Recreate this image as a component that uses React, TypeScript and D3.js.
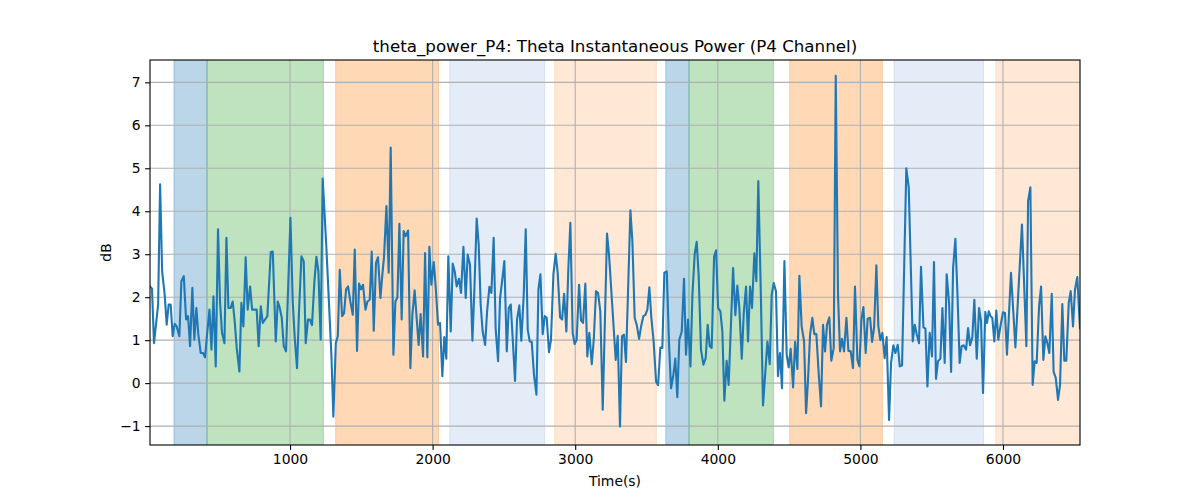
import { useEffect, useRef } from 'react'
import * as d3 from 'd3'

// sample times (s) and theta power (dB)
const TIME = [
  18, 32, 46, 60, 75, 89, 103, 121, 135, 149, 163, 177, 191, 205, 224, 238, 255, 271, 285, 299,
  315, 329, 343, 357, 374, 390, 404, 418, 435, 449, 463, 479, 495, 509, 523, 540, 554, 568, 584, 598,
  612, 626, 645, 659, 673, 689, 703, 720, 734, 748, 766, 780, 795, 809, 825, 841,
  865, 879, 900, 914, 928, 942, 956, 972, 1003, 1019, 1033, 1049, 1063, 1080, 1096, 1110, 1126, 1140, 1154, 1171,
  1185, 1199, 1215, 1229, 1255, 1290, 1304, 1321, 1335, 1349, 1365, 1379, 1393, 1407, 1423, 1440, 1454, 1470, 1484, 1498,
  1512, 1529, 1543, 1559, 1573, 1587, 1603, 1617, 1634, 1648, 1659,
  1676, 1692, 1706, 1725, 1739, 1753, 1767, 1783, 1797, 1811, 1828, 1844, 1858, 1874, 1888, 1902, 1916, 1933, 1947, 1963,
  1977, 1991, 2008, 2022, 2038, 2052, 2068, 2082, 2096, 2110, 2127, 2141, 2155, 2169, 2185, 2199, 2216, 2232, 2246, 2262,
  2279, 2293, 2309, 2323, 2337, 2351, 2368, 2382, 2398, 2412, 2428, 2442, 2459, 2473, 2487, 2503,
  2520, 2534, 2548, 2562, 2578, 2592, 2608, 2622, 2639, 2653, 2667, 2681, 2695, 2711, 2728, 2742, 2756, 2772, 2786, 2800,
  2816, 2830, 2847, 2863, 2877, 2894, 2908, 2922, 2938, 2952, 2966, 2982, 2996, 3010, 3027, 3041, 3055, 3071, 3085, 3099,
  3116, 3130, 3146, 3160, 3176, 3193, 3223, 3237, 3284, 3298, 3314, 3328, 3342, 3356,
  3387, 3401, 3417, 3431, 3448, 3462, 3478, 3492, 3506, 3520, 3534, 3550, 3567, 3581, 3597, 3611, 3625, 3642, 3658, 3672,
  3688, 3702, 3716, 3730, 3747, 3763, 3777, 3791, 3808, 3822, 3838, 3852, 3866, 3882, 3899, 3915, 3929, 3943, 3957, 3974,
  3988, 4002, 4018, 4032, 4046, 4062, 4076, 4093, 4107, 4123, 4137, 4151, 4168, 4182, 4198, 4212,
  4226, 4240, 4256, 4270, 4284, 4301, 4317, 4334, 4348, 4364, 4378, 4392, 4408, 4422, 4436, 4450, 4467, 4483, 4497, 4511,
  4528, 4542, 4558, 4572, 4588, 4605, 4619, 4633, 4647, 4663, 4677, 4691, 4708, 4724, 4738, 4752, 4766, 4782, 4796, 4813,
  4827, 4843, 4857, 4871, 4885, 4902, 4916, 4932, 4948, 4962, 4979, 4993, 5007, 5021, 5037, 5051,
  5068, 5082, 5096, 5112, 5126, 5140, 5154, 5170, 5184, 5201, 5215, 5231, 5245, 5262, 5276, 5292, 5322, 5339, 5367, 5381,
  5395, 5411, 5425, 5442, 5456, 5470, 5486, 5502, 5516, 5530, 5544, 5561, 5575, 5591, 5605, 5622, 5636, 5650, 5666, 5682,
  5696, 5710, 5724, 5741, 5755, 5769, 5785, 5799, 5816, 5832, 5846, 5860,
  5876, 5888, 5900, 5914, 5925, 5939, 5953, 5967, 5984, 6000, 6014, 6028, 6056, 6087, 6133, 6164, 6176, 6192, 6208, 6222,
  6236, 6253, 6267, 6283, 6297, 6311, 6325, 6342, 6355, 6370, 6386, 6400, 6416, 6430, 6444, 6461, 6475, 6491, 6505, 6521,
  6540,
]

const POWER_DB = [
  2.25, 2.2, 0.93, 1.36, 1.83, 4.63, 2.6, 2.06, 1.36, 1.83, 1.83, 1.09, 1.38, 1.32, 1.09, 2.37, 2.49, 1.48, 1.56, 0.86,
  2.22, 1.01, 1.75, 1.13, 0.7, 0.7, 0.6, 1.13, 1.71, 0.78, 2.02, 0.39, 3.58, 1.9, 1.17, 0.93, 3.38, 1.75, 1.75, 1.9,
  1.44, 0.82, 0.27, 1.87, 1.32, 2.93, 1.71, 2.25, 1.71, 1.71, 1.71, 0.86, 1.79, 1.4, 1.48, 1.56,
  3.05, 3.06, 0.97, 1.9, 1.75, 1.52, 0.86, 0.74, 3.85, 1.9, 1.05, 0.35, 1.67, 2.95, 2.84, 0.93, 1.48, 1.48, 1.35, 2.37,
  2.94, 2.6, 1.01, 4.76, 3.15, 0.66, -0.78, 0.93, 1.09, 2.64, 1.56, 1.63, 2.18, 2.25, 1.9, 1.59, 3.11, 0.75, 2.32, 2.18,
  2.29, 1.71, 1.9, 1.94, 3.06, 1.22, 2.8, 2.93, 1.98, 2.55, 2.92,
  4.12, 2.57, 5.48, 0.66, 1.9, 2.0, 3.71, 1.48, 3.54, 3.42, 3.55, 0.35, 1.6, 2.16, 1.52, 0.89, 1.61, 0.62, 3.03, 0.6,
  3.17, 2.29, 2.82, 2.22, 1.36, 1.4, 0.16, 1.07, 0.57, 2.95, 1.2, 2.78, 2.6, 2.25, 2.43, 2.1, 3.17, 1.98, 2.99, 2.76,
  0.99, 2.2, 3.83, 3.23, 1.83, 1.2, 0.89, 1.67, 2.24, 2.1, 3.38, 1.27, 0.51, 1.98, 2.37, 2.84,
  0.74, 1.75, 1.83, 1.01, 0.05, 1.48, 1.81, 0.99, 2.06, 3.58, 1.24, 0.97, 0.96, 0.19, -0.27, 2.18, 2.53, 1.14, 1.56, 1.52,
  0.72, 1.01, 2.53, 3.01, 2.57, 1.53, 1.48, 2.08, 1.2, 2.68, 3.73, 1.17, 0.91, 1.01, 2.29, 1.46, 1.4, 2.32, 0.62, 1.17,
  0.44, 1.01, 2.14, 2.1, 1.67, -0.62, 3.48, 2.99, 0.54, 1.1, -1.01, 1.09, 1.13, 0.49,
  4.02, 3.3, 1.52, 1.36, 1.03, 1.32, 1.56, 1.59, 1.71, 2.23, 1.52, 0.96, 0.04, -0.05, 0.83, 0.82, 2.57, 2.6, 0.9, -0.12,
  0.19, 0.57, -0.33, 1.01, 1.2, 2.43, 0.66, 1.48, 0.39, 2.06, 3.01, 3.29, 2.49, 0.78, 0.43, 0.58, 1.36, 0.86, 0.82, 2.95,
  3.09, 1.75, 1.67, 1.2, -0.41, 0.52, -0.04, 1.44, 2.68, 1.58, 2.27, 1.75, 0.57, 1.63, 2.25, 0.97,
  2.25, 1.75, 3.02, 2.37, 4.7, 2.2, -0.52, 0.3, 0.97, 0.44, 2.06, 2.33, 2.14, 0.16, 0.7, -0.12, 2.84, 0.66, 0.37, 0.8,
  -0.1, 0.96, 0.33, 2.5, 1.32, 0.97, -0.7, 0.1, 1.13, 1.52, 1.14, 1.14, 0.2, -0.54, 1.36, 0.74, 1.36, 1.53, 0.52, 0.82,
  7.15, 2.06, 0.74, 1.03, 0.74, 1.52, 0.75, 0.74, 0.35, 2.25, 0.54, 0.39, 1.48, 1.77, 0.7, 1.5,
  1.52, 0.96, 1.3, 2.74, 1.32, 1.0, 1.17, 0.58, 1.07, -0.86, 0.47, 0.88, 0.7, 0.89, 0.39, 0.41, 5.0, 4.55, 0.97, 1.36,
  1.14, 0.93, 2.71, 1.3, 1.27, -0.08, 1.17, 0.62, 2.82, 0.1, 0.51, 0.57, 1.75, 0.47, 2.53, 1.86, 0.26, 2.68, 3.36, 1.95,
  0.47, 0.86, 0.88, 0.78, 1.28, 0.88, 1.07, 1.94, 0.57, 1.75, 1.44, -0.23,
  1.66, 1.4, 1.67, 1.55, 1.52, 0.97, 1.69, 1.01, 1.36, 1.65, 1.63, 0.66, 2.57, 0.83, 3.69, 0.86, 4.24, 4.56, -0.04, 0.51,
  0.47, 1.79, 2.25, 0.54, 1.09, 0.93, 0.7, 2.08, 0.26, 0.12, -0.39, -0.04, 1.84, 0.52, 0.52, 1.87, 2.14, 1.32, 2.18, 2.47,
  1.28,
]

// shaded task periods
const SPAN_START = [186, 418, 1320, 2120, 2856, 3635, 3798, 4504, 5236, 5949]
const SPAN_END = [418, 1234, 2041, 2786, 3569, 3798, 4390, 5154, 5863, 6600]
const SPAN_KIND = ['blue', 'green', 'orange', 'paleBlue', 'paleOrange', 'blue', 'green', 'orange', 'paleBlue', 'paleOrange']

const X_TICKS = [1000, 2000, 3000, 4000, 5000, 6000]
const Y_TICKS = [-1, 0, 1, 2, 3, 4, 5, 6, 7]

const SPAN_COLORS: Record<string, string> = {
  blue: 'rgba(31,119,180,0.3)',
  green: 'rgba(44,160,44,0.3)',
  orange: 'rgba(255,127,14,0.3)',
  paleBlue: 'rgba(31,100,200,0.12)',
  paleOrange: 'rgba(255,127,14,0.17)',
}

const FONT = '"DejaVu Sans", Verdana, sans-serif'

export default function App() {
  const svgRef = useRef<SVGSVGElement>(null)

  useEffect(() => {
    document.body.style.margin = '0'
    if (!svgRef.current) return

    const svg = d3.select(svgRef.current)
    svg.selectAll('*').remove()

    const W = 1200
    const H = 500
    const margin = { top: 60, right: 120, bottom: 55, left: 150 }
    const width = W - margin.left - margin.right
    const height = H - margin.top - margin.bottom

    const x = d3.scaleLinear().domain([18, 6540]).range([0, width])
    const y = d3.scaleLinear().domain([-1.44, 7.52]).range([height, 0])

    svg.append('defs')
      .append('clipPath')
      .attr('id', 'plot-clip')
      .append('rect')
      .attr('width', width)
      .attr('height', height)

    const g = svg.append('g')
      .attr('transform', `translate(${margin.left},${margin.top})`)

    const plot = g.append('g').attr('clip-path', 'url(#plot-clip)')

    // spans
    SPAN_START.forEach((s, i) => {
      const c = SPAN_COLORS[SPAN_KIND[i]]
      plot.append('rect')
        .attr('x', x(s))
        .attr('y', -2)
        .attr('width', x(SPAN_END[i]) - x(s))
        .attr('height', height + 4)
        .attr('fill', c)
        .attr('stroke', c)
        .attr('stroke-width', 1)
    })

    // grid
    X_TICKS.forEach(t => {
      plot.append('line')
        .attr('x1', x(t)).attr('x2', x(t))
        .attr('y1', 0).attr('y2', height)
        .attr('stroke', '#b0b0b0')
        .attr('stroke-width', 1.1)
    })
    Y_TICKS.forEach(t => {
      plot.append('line')
        .attr('x1', 0).attr('x2', width)
        .attr('y1', y(t)).attr('y2', y(t))
        .attr('stroke', '#b0b0b0')
        .attr('stroke-width', 1.1)
    })

    const line = d3.line<number>()
      .x((_, i) => x(TIME[i]))
      .y(d => y(d))

    plot.append('path')
      .datum(POWER_DB)
      .attr('fill', 'none')
      .attr('stroke', '#1f77b4')
      .attr('stroke-width', 2.1)
      .attr('stroke-linejoin', 'round')
      .attr('stroke-linecap', 'square')
      .attr('d', line)

    // axes
    const xAxis = g.append('g')
      .attr('transform', `translate(0,${height})`)
      .call(d3.axisBottom(x).tickValues(X_TICKS).tickSize(4.9).tickPadding(4.5).tickFormat(d3.format('d')))
    const yAxis = g.append('g')
      .call(d3.axisLeft(y).tickValues(Y_TICKS).tickSize(4.9).tickPadding(4.5).tickFormat(d => String(d).replace('-', '\u2212')))

    ;[xAxis, yAxis].forEach(a => {
      a.select('.domain').remove()
      a.selectAll('line').attr('stroke', '#000').attr('stroke-width', 1.1)
      a.selectAll('text')
        .style('font-family', FONT)
        .style('font-size', '13.9px')
        .attr('fill', '#000')
    })

    g.append('rect')
      .attr('width', width)
      .attr('height', height)
      .attr('fill', 'none')
      .attr('stroke', '#000')
      .attr('stroke-width', 1.1)

    g.append('text')
      .attr('x', width / 2)
      .attr('y', -8.3)
      .attr('text-anchor', 'middle')
      .style('font-family', FONT)
      .style('font-size', '16.7px')
      .text('theta_power_P4: Theta Instantaneous Power (P4 Channel)')

    g.append('text')
      .attr('x', width / 2)
      .attr('y', height + 41)
      .attr('text-anchor', 'middle')
      .style('font-family', FONT)
      .style('font-size', '13.9px')
      .text('Time(s)')

    g.append('text')
      .attr('transform', `translate(${106 - margin.left},${height / 2}) rotate(-90)`)
      .attr('text-anchor', 'middle')
      .attr('dy', '0.35em')
      .style('font-family', FONT)
      .style('font-size', '13.9px')
      .text('dB')
  }, [])

  return <svg ref={svgRef} width={1200} height={500} style={{ display: 'block', background: '#fff' }} />
}
